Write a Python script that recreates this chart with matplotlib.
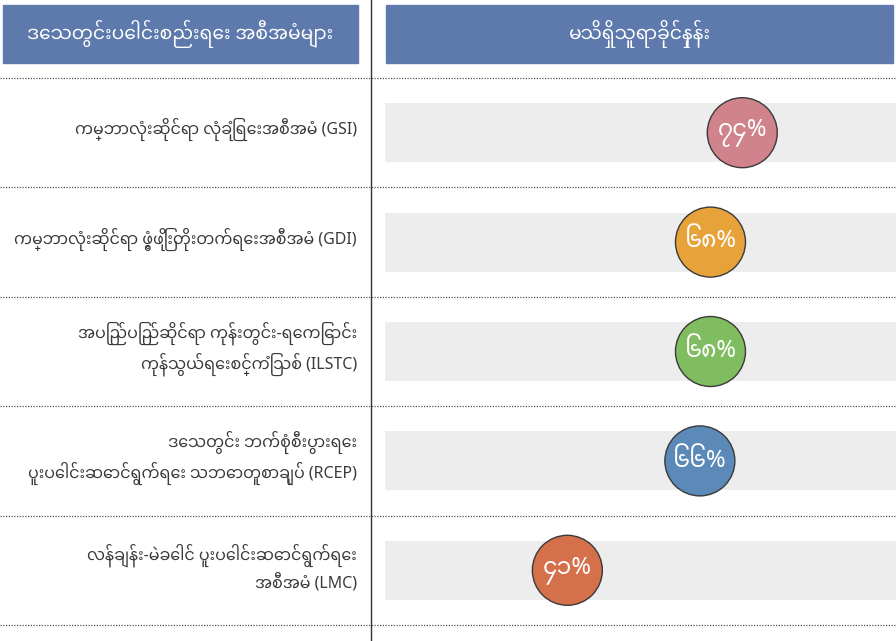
import matplotlib
matplotlib.use("Agg")
import matplotlib.pyplot as plt
from matplotlib import font_manager
from matplotlib.patches import Rectangle

header_left = "ဒေသတွင်းပေါင်းစည်းရေး အစီအမံများ"
header_right = "မသိရှိသူရာခိုင်နှုန်း"
categories = [
    "ကမ္ဘာလုံးဆိုင်ရာ လုံခြုံရေးအစီအမံ (GSI)",
    "ကမ္ဘာလုံးဆိုင်ရာ ဖွံ့ဖြိုးတိုးတက်ရေးအစီအမံ (GDI)",
    "အပြည်ပြည်ဆိုင်ရာ ကုန်းတွင်း-ရေကြောင်း\nကုန်သွယ်ရေးစင်္ကြံသစ် (ILSTC)",
    "ဒေသတွင်း ဘက်စုံစီးပွားရေး\nပူးပေါင်းဆောင်ရွက်ရေး သဘောတူစာချုပ် (RCEP)",
    "လန်ချန်း-မဲခေါင် ပူးပေါင်းဆောင်ရွက်ရေး\nအစီအမံ (LMC)",
]
values = [74, 68, 68, 66, 41]
colors = ["#d0838a", "#e8a23a", "#80bd60", "#5b89b8", "#d4704a"]

MY_DIGITS = str.maketrans("0123456789", "၀၁၂၃၄၅၆၇၈၉")

# pick an installed Myanmar family, Latin falls back to Noto Sans first
installed = {f.name for f in font_manager.fontManager.ttflist}
my_font = next((f for f in ["Noto Sans Myanmar", "Noto Sans Myanmar UI", "Padauk",
                            "Myanmar Sans Pro"] if f in installed), None)
families = ["Noto Sans"] + ([my_font] if my_font else []) + ["DejaVu Sans"]
plt.rcParams["font.family"] = families

W, H = 896, 641
fig = plt.figure(figsize=(W / 100, H / 100), dpi=100)
fig.patch.set_facecolor("white")

# background axes in pixel coords for the table frame
bg = fig.add_axes([0, 0, 1, 1])
bg.set_xlim(0, W)
bg.set_ylim(H, 0)
bg.set_axis_off()

head_col = "#5e7aad"
bg.add_patch(Rectangle((3, 5), 355, 58, color=head_col))
bg.add_patch(Rectangle((386, 5), 507, 58, color=head_col))
bg.text(180, 34, header_left, color="white", fontsize=13.5, ha="center", va="center")
bg.text(640, 34, header_right, color="white", fontsize=13.5, ha="center", va="center")
bg.plot([371, 371], [0, H], color="#333333", lw=1)

top, bottom = 78, 625
n = len(categories)
step = (bottom - top) / n
for i in range(n + 1):
    bg.plot([0, W], [top + i * step] * 2, color="#555555", lw=0.9,
            linestyle=(0, (1, 1.2)))
for i, label in enumerate(categories):
    bg.text(357, top + (i + 0.5) * step - 3, label, ha="right", va="center",
            fontsize=11.5, color="#3a3a3a", linespacing=1.45)

# right column: percentage circles
ax = fig.add_axes([385 / W, 1 - bottom / H, 511 / W, (bottom - top) / H])
ax.patch.set_alpha(0)
xmin, xmax = 6.6, 103
ax.set_xlim(xmin, xmax)
ax.set_ylim(n - 0.5, -0.5)
ax.set_axis_off()
rows = list(range(n))
ax.barh(rows, [xmax - xmin] * n, left=xmin, height=0.54, color="#ededed", zorder=1)
ax.scatter(values, rows, s=2540, c=colors, edgecolors="#3a3a3a", linewidths=1, zorder=3)
for v, r in zip(values, rows):
    ax.text(v, r, f"{v}".translate(MY_DIGITS) + "%", ha="center", va="center",
            color="white", fontsize=17, fontweight="semibold", zorder=4)

fig.savefig("out.png", dpi=100)
